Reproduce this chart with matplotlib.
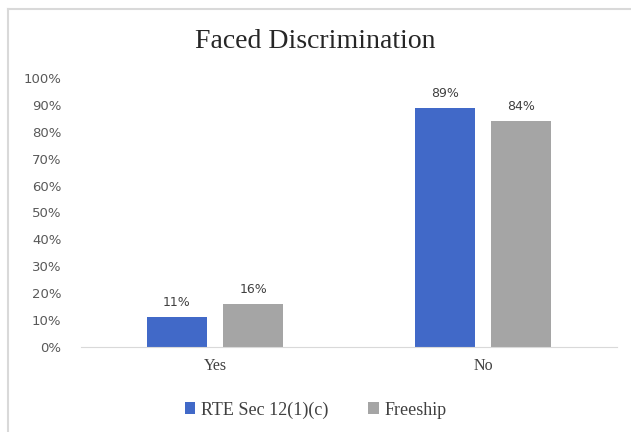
import numpy as np
import matplotlib.pyplot as plt
from matplotlib.lines import Line2D

categories = ['Yes', 'No']
rte_values = [11, 89]
freeship_values = [16, 84]
series_names = ['RTE Sec 12(1)(c)', 'Freeship']
colors = ['#4169c8', '#a5a5a5']

fig = plt.figure(figsize=(6.31, 4.32), dpi=100)
ax = fig.add_axes([81 / 631, 1 - 347 / 432, 536 / 631, 269 / 432])

# Rahmen links und oben
y_top = 1 - 8.5 / 432
x_left = 8 / 631
fig.lines.append(Line2D([x_left, x_left], [0, y_top], transform=fig.transFigure,
                        color='#d9d9d9', linewidth=1.5))
fig.lines.append(Line2D([x_left, 1], [y_top, y_top], transform=fig.transFigure,
                        color='#d9d9d9', linewidth=1.5))

x = np.arange(len(categories))
width = 0.224
offset = 0.142
for vals, name, c, dx in zip([rte_values, freeship_values], series_names, colors,
                             [-offset, offset]):
    bars = ax.bar(x + dx, vals, width, color=c, label=name)
    for b, v in zip(bars, vals):
        ax.text(b.get_x() + b.get_width() / 2, v + 3, f'{v}%', ha='center',
                va='bottom', fontsize=9, color='#404040', family='DejaVu Sans')

ax.set_xlim(-0.5, 1.5)
ax.set_ylim(0, 100)
ax.set_yticks(range(0, 101, 10))
ax.set_yticklabels([f'{t}%' for t in range(0, 101, 10)], fontsize=9.5,
                   color='#595959', family='DejaVu Sans')
ax.set_xticks(x)
ax.set_xticklabels(categories, fontsize=11.5, color='#404040', family='Liberation Serif')
ax.tick_params(axis='both', length=0)
ax.tick_params(axis='y', pad=14)
ax.tick_params(axis='x', pad=8)
for side in ['top', 'right', 'left']:
    ax.spines[side].set_visible(False)
ax.spines['bottom'].set_color('#d9d9d9')

fig.text(0.5, 1 - 42 / 432, 'Faced Discrimination', ha='center', va='center',
         fontsize=20, color='#262626', family='Liberation Serif')

leg = fig.legend(loc='center', bbox_to_anchor=(0.5, 1 - 410 / 432), ncol=2,
                 frameon=False, handlelength=0.6, handleheight=0.6,
                 columnspacing=2.2, handletextpad=0.3,
                 prop={'family': 'Liberation Serif', 'size': 13})
for t in leg.get_texts():
    t.set_color('#404040')

fig.savefig('out.png', dpi=100)
